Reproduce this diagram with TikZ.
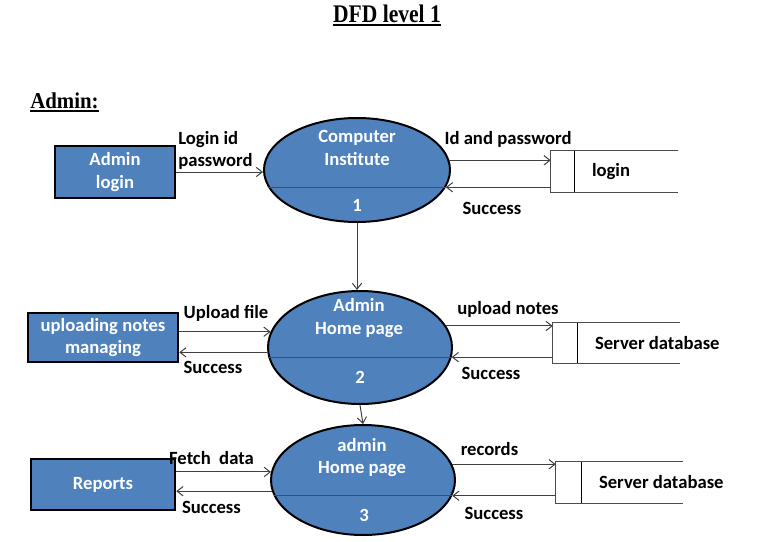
\documentclass[tikz,border=0pt]{standalone}
\usepackage{fontspec}
\setmainfont{Carlito}
\newfontfamily\headfont{Liberation Serif}
\usetikzlibrary{shapes.geometric,arrows.meta}
\definecolor{dfdblue}{RGB}{79,129,189}

\begin{document}
\begin{tikzpicture}[x=0.75pt,y=-0.75pt,
    font=\bfseries\fontsize{14}{17}\selectfont,
    entity/.style={draw=black,line width=1.9pt,fill=dfdblue,text=white,align=center,inner sep=0pt},
    process/.style={ellipse,draw=black,line width=1.5pt,fill=dfdblue,inner sep=0pt},
    ptext/.style={text=white,align=center,inner sep=0pt},
    store/.style={inner sep=0pt,minimum width=95.25pt},
    lbl/.style={inner sep=0pt,align=left},
    flow/.style={draw=black!75,line width=0.75pt,-{Straight Barb[length=4.5pt,width=7pt]}},
    divider/.style={draw=black!70,line width=0.75pt}]
\useasboundingbox (0,0) rectangle (767,542);

% headings
\node[inner sep=0pt] (title) at (387,14) {\headfont\fontsize{19}{22}\selectfont\scalebox{0.85}[1]{DFD level 1}};
\draw[line width=1.5pt] ([yshift=-1.5pt]title.south west) -- ([yshift=-1.5pt]title.south east);
\node[inner sep=0pt,anchor=west] (admin) at (30,101) {\headfont\fontsize{17}{20}\selectfont\scalebox{0.92}[1]{Admin:}};
\draw[line width=1.3pt] ([yshift=-1.5pt]admin.south west) -- ([yshift=-1.5pt]admin.south east);

% external entities
\node[entity,minimum width=90pt,minimum height=39pt] (login) at (115,172) {Admin\\login};
\node[entity,minimum width=112.5pt,minimum height=36.75pt] (notes) at (103,337.5) {uploading notes\\managing};
\node[entity,minimum width=108pt,minimum height=38.25pt] (reports) at (103,484.5) {Reports};

% processes
\node[process,minimum width=139.5pt,minimum height=78pt] (inst) at (357,170) {};
\node[process,minimum width=138pt,minimum height=84.75pt] (home) at (360,347.5) {};
\node[process,minimum width=138pt,minimum height=82.5pt] (admhome) at (363,480) {};
\draw[divider] (inst.191) -- (inst.349);
\draw[divider] (home.186) -- (home.354);
\draw[divider] (admhome.190) -- (admhome.350);
\node[ptext] (inst-t) at (357,148) {Computer\\Institute};
\node[ptext] (inst-n) at (357,205) {1};
\node[ptext] (home-t) at (359,318) {Admin\\Home page};
\node[ptext] (home-n) at (360,377) {2};
\node[ptext] (admhome-t) at (362,457.5) {admin\\Home page};
\node[ptext] (admhome-n) at (364,515) {3};

% data stores
\node[store,minimum height=30.75pt] (logindb) at (614.5,171.5) {};
\node[store,minimum height=30pt] (serverdb) at (616.5,343) {};
\node[store,minimum height=30.75pt] (serverdb2) at (619.5,482.5) {};
\foreach \s/\w in {logindb/18pt,serverdb/18.75pt,serverdb2/19.5pt}{
  \draw[black!70,line width=0.75pt] (\s.north east) -- (\s.north west) -- (\s.south west) -- (\s.south east);
  \draw[line width=0.75pt] ([xshift=\w]\s.north west) -- ([xshift=\w]\s.south west);
}
\node[lbl,anchor=west] (logindb-t) at ([xshift=30.75pt]logindb.west) {login};
\node[lbl,anchor=west] (serverdb-t) at ([xshift=31.5pt]serverdb.west) {Server database};
\node[lbl,anchor=west] (serverdb2-t) at ([xshift=32.25pt]serverdb2.west) {Server database};

% data flows
\draw[flow] (login.east) -- (login.east -| inst.west);
\draw[flow] (inst.6) -- (inst.6 -| logindb.west);
\draw[flow] (logindb.west |- inst.349) -- (inst.349);
\draw[flow] (inst.south) -- (inst.south |- home.north);
\draw[flow] (notes.east |- home.170) -- (home.170);
\draw[flow] (home.183) -- (home.183 -| notes.east);
\draw[flow] (home.14) -- (home.14 -| serverdb.west);
\draw[flow] (serverdb.west |- home.354) -- (home.354);
\draw[flow] (home.south) -- (admhome.north);
\draw[flow] (reports.east |- admhome.175) -- (admhome.175);
\draw[flow] (admhome.187) -- (admhome.187 -| reports.east);
\draw[flow] (admhome.10) -- (admhome.10 -| serverdb2.west);
\draw[flow] (serverdb2.west |- admhome.350) -- (admhome.350);

% flow labels
\node[lbl,anchor=west] (l-login) at (178,150.5) {Login id\\password};
\node[lbl] (l-idpw) at (508,139) {Id and password};
\node[lbl] (l-ok1) at (492,208) {Success};
\node[lbl] (l-upload) at (226,313) {Upload file};
\node[lbl] (l-ok2) at (213,367) {Success};
\node[lbl] (l-notes) at (508,309) {upload notes};
\node[lbl] (l-ok3) at (491,373) {Success};
\node[lbl] (l-fetch) at (211.5,458) {Fetch\ \ data};
\node[lbl] (l-ok4) at (211.5,507) {Success};
\node[lbl] (l-rec) at (489.5,449) {records};
\node[lbl] (l-ok5) at (494,513) {Success};

\end{tikzpicture}
\end{document}
